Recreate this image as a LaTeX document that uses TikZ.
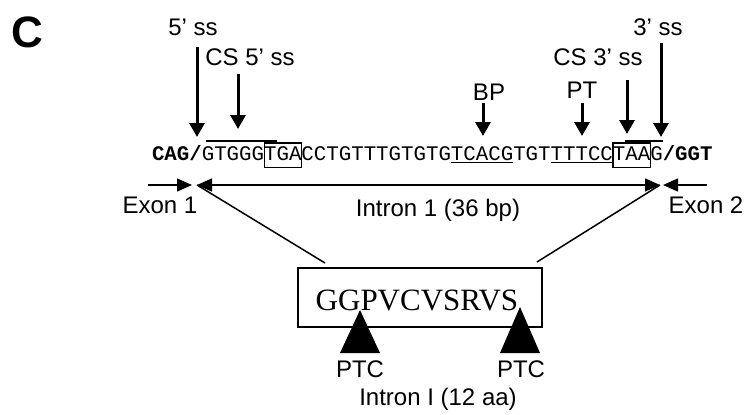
\documentclass[tikz,border=0pt]{standalone}
\usepackage{fontspec}
\setmainfont{Liberation Sans}
\newfontfamily\seqfont{Liberation Mono}
\newfontfamily\protfont{Liberation Serif}
\usepackage{tikz}
\usetikzlibrary{arrows.meta, positioning}

\begin{document}
\begin{tikzpicture}[
    x=0.5pt, y=-0.5pt,
    node distance=0pt,
    lbl/.style={font=\fontsize{12}{14}\selectfont, inner sep=0, anchor=base},
    seq/.style={font=\seqfont\fontsize{10.38}{12}\selectfont, inner sep=0, outer sep=0, text height=8.5pt, text depth=3.85pt},
    framed/.style={seq, draw, line width=0.6pt},
    site/.style={line width=1.5pt, -{Triangle[length=7pt, width=7.5pt]}},
    span/.style={line width=0.75pt, -{Triangle[length=7.5pt, width=6.5pt]}},
    span2/.style={line width=0.75pt, {Triangle[length=7.5pt, width=6.5pt]}-{Triangle[length=7.5pt, width=6.5pt]}},
    protbox/.style={draw, line width=1pt, minimum width=122pt, minimum height=29.5pt, inner sep=0}
]
\useasboundingbox (0,0) rectangle (750,414);

\node[lbl, font=\bfseries\fontsize{22}{24}\selectfont] (panel) at (27,47.5) {C};

% sequence
\node[seq, anchor=base west] (q1) at (152,160) {\bfseries CAG/};
\node[seq, right=of q1] (q2) {GTGGG};
\node[framed, right=of q2] (q3) {TGA};
\node[seq, right=of q3] (q4) {CCTGTTTGTGTG};
\node[seq, right=of q4] (q5) {TCACG};
\node[seq, right=of q5] (q6) {TGT};
\node[seq, right=of q6] (q7) {TTTCC};
\node[framed, right=of q7] (q8) {TAA};
\node[seq, right=of q8] (q9) {G};
\node[seq, right=of q9] (q10) {\bfseries /GGT};

\draw[line width=1pt] ([xshift=2pt,yshift=1pt]q2.north west) -- ([xshift=6.2pt,yshift=1pt]q3.north west);
\draw[line width=1pt] ([xshift=6.2pt,yshift=1pt]q8.north west) -- ([yshift=1pt]q9.north east);
\draw[line width=0.75pt] ([yshift=-1.2pt]q5.base west) -- ([yshift=-1.2pt]q5.base east);
\draw[line width=0.75pt] ([yshift=-1.2pt]q7.base west) -- ([yshift=-1.2pt]q7.base east);

% site labels
\node[lbl] (l5ss) at (193,35) {5’ ss};
\node[lbl] (lcs5) at (250,65) {CS 5’ ss};
\node[lbl] (lbp) at (489,100) {BP};
\node[lbl] (lpt) at (582,98) {PT};
\node[lbl] (lcs3) at (598,65) {CS 3’ ss};
\node[lbl] (l3ss) at (658,35) {3’ ss};

\coordinate (s5top) at (197,47);  \coordinate (s5tip) at (197,137);
\coordinate (c5top) at (238,74);  \coordinate (c5tip) at (238,129);
\coordinate (bptop) at (483,103); \coordinate (bptip) at (483,136);
\coordinate (pttop) at (582,103); \coordinate (pttip) at (582,136);
\coordinate (c3top) at (627,80);  \coordinate (c3tip) at (627,134);
\coordinate (s3top) at (661,43);  \coordinate (s3tip) at (661,137);
\draw[site] (s5top) -- (s5tip);
\draw[site] (c5top) -- (c5tip);
\draw[site] (bptop) -- (bptip);
\draw[site] (pttop) -- (pttip);
\draw[site] (c3top) -- (c3tip);
\draw[site] (s3top) -- (s3tip);

% exon / intron line
\coordinate (e1a) at (148,185); \coordinate (e1b) at (192,185);
\coordinate (i1) at (197,185);  \coordinate (i2) at (660,185);
\coordinate (e2b) at (663,185); \coordinate (e2a) at (707,185);
\draw[span] (e1a) -- (e1b);
\draw[span2] (i1) -- (i2);
\draw[span] (e2a) -- (e2b);
\node[lbl] (lex1) at (160,213) {Exon 1};
\node[lbl] (lex2) at (706,213) {Exon 2};
\node[lbl] (lint) at (438,216) {Intron 1 (36 bp)};

% translated intron
\coordinate (d1) at (325,263);
\coordinate (d2) at (537,262);
\draw[line width=0.75pt] (i1) -- (d1);
\draw[line width=0.75pt] (i2) -- (d2);
\node[protbox] (prot) at (420,297.5) {};
\node[anchor=base, inner sep=0, font=\protfont\fontsize{15.5}{18}\selectfont] (pep) at (417,310) {GGPVCVSRVS};
\coordinate (ptc1) at (360,310);
\coordinate (ptc2) at (520,307);
\fill (ptc1) -- ++(-20,43) -- ++(40,0) -- cycle;
\fill (ptc2) -- ++(-20,46) -- ++(40,0) -- cycle;
\node[lbl] (lptc1) at (360,377) {PTC};
\node[lbl] (lptc2) at (521,377) {PTC};
\node[lbl] (lpep) at (438,405) {Intron I (12 aa)};
\end{tikzpicture}
\end{document}
